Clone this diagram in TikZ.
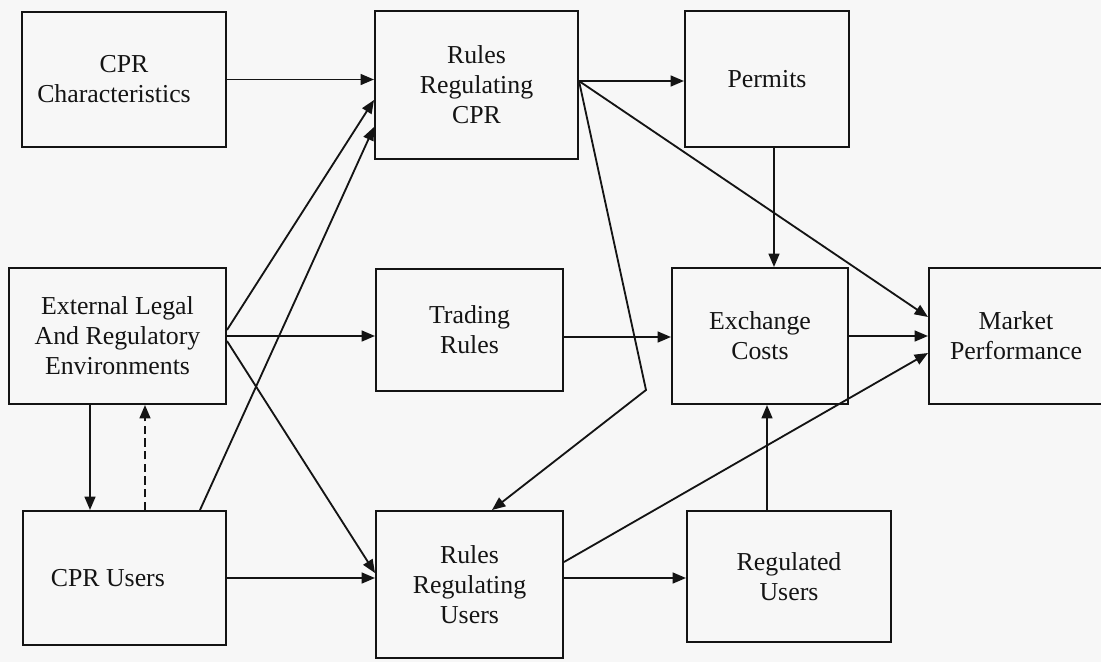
\documentclass[tikz,border=0pt]{standalone}
\usepackage{fontspec}
\setmainfont{Liberation Serif}
\usepackage{tikz}
\usetikzlibrary{positioning,arrows.meta,calc}
\definecolor{scanpaper}{HTML}{F7F7F7}
\definecolor{scanink}{HTML}{141414}

\begin{document}
\begin{tikzpicture}[x=0.6pt, y=-0.6pt,
    cprbox/.style={draw=scanink, line width=1.2pt, align=center, inner sep=0pt,
      text=scanink, font=\rmfamily\fontsize{15.5}{18}\selectfont},
    flow/.style={draw=scanink, line width=1.1pt, -{Triangle[length=8pt,width=6.5pt]}},
    weakflow/.style={flow, dash pattern=on 5pt off 2.6pt}]
    \useasboundingbox (0,0) rectangle (1101,662);
    \fill[scanpaper] (0,0) rectangle (1101,662);
    \clip (0,0) rectangle (1101,662);
    % left column
    \node[cprbox, minimum width=122.4pt, minimum height=81pt] (cprchar) at (124,79.5) {CPR\\Characteristics\hspace*{12pt}};
    \node[cprbox, minimum width=130.2pt, minimum height=81.6pt] (extenv) at (117.5,336) {External Legal\\And Regulatory\\Environments};
    \node[cprbox, minimum width=121.8pt, minimum height=80.4pt] (cprusers) at (124.5,578) {CPR Users\hspace*{20pt}};
    % middle column
    \node[cprbox, minimum width=121.8pt, minimum height=88.8pt] (rulescpr) at (476.5,85) {Rules\\Regulating\\CPR};
    \node[cprbox, minimum width=112.2pt, minimum height=73.2pt] (trading) at (469.5,330) {Trading\\Rules};
    \node[cprbox, minimum width=112.2pt, minimum height=88.2pt] (rulesusers) at (469.5,584.5) {Rules\\Regulating\\Users};
    % right columns
    \node[cprbox, minimum width=98.4pt, minimum height=81.6pt] (permits) at (767,79) {Permits};
    \node[cprbox, minimum width=105.6pt, minimum height=81.6pt] (exchange) at (760,336) {Exchange\\Costs};
    \node[cprbox, minimum width=122.4pt, minimum height=78.6pt] (regusers) at (789,576.5) {Regulated\\Users};
    \node[cprbox, minimum width=104.4pt, minimum height=81.6pt] (market) at (1016,336) {Market\\Performance};
    % connectors
    \coordinate (rcout) at ([yshift=2.4pt]rulescpr.east);
    \coordinate (bend) at (646,390);
    \draw[flow] (cprchar.east) -- (cprchar.east -| rulescpr.west);
    \draw[flow] ([yshift=3.6pt]extenv.east) -- ([yshift=-9pt]rulescpr.west);
    \draw[flow] ([xshift=45.3pt]cprusers.north) -- ([yshift=-25.2pt]rulescpr.west);
    \draw[flow] (extenv.east) -- (extenv.east -| trading.west);
    \draw[flow] ([yshift=-3pt]extenv.east) -- ([yshift=6.9pt]rulesusers.west);
    \draw[flow] (cprusers.east) -- (cprusers.east -| rulesusers.west);
    \draw[flow] ([xshift=-16.5pt]extenv.south) -- ([xshift=-16.5pt]extenv.south |- cprusers.north);
    \draw[weakflow] ([xshift=12.3pt]cprusers.north) -- ([xshift=12.3pt]cprusers.north |- extenv.south);
    \draw[flow] (rcout) -- (rcout -| permits.west);
    \draw[flow] (rcout) -- (bend) -- ([xshift=13.5pt]rulesusers.north);
    \draw[flow] (rcout) -- ([yshift=11.4pt]market.west);
    \draw[flow] ([xshift=4.2pt]permits.south) -- ([xshift=4.2pt]permits.south |- exchange.north);
    \draw[flow] ([yshift=-4.2pt]trading.east) -- ([yshift=-4.2pt]trading.east -| exchange.west);
    \draw[flow] (exchange.east) -- (market.west);
    \draw[flow] ([yshift=13.5pt]rulesusers.east) -- ([yshift=-10.2pt]market.west);
    \draw[flow] ([xshift=-13.2pt]regusers.north) -- ([xshift=-13.2pt]regusers.north |- exchange.south);
    \draw[flow] ([yshift=3.9pt]rulesusers.east) -- ([yshift=3.9pt]rulesusers.east -| regusers.west);
  \end{tikzpicture}
\end{document}
